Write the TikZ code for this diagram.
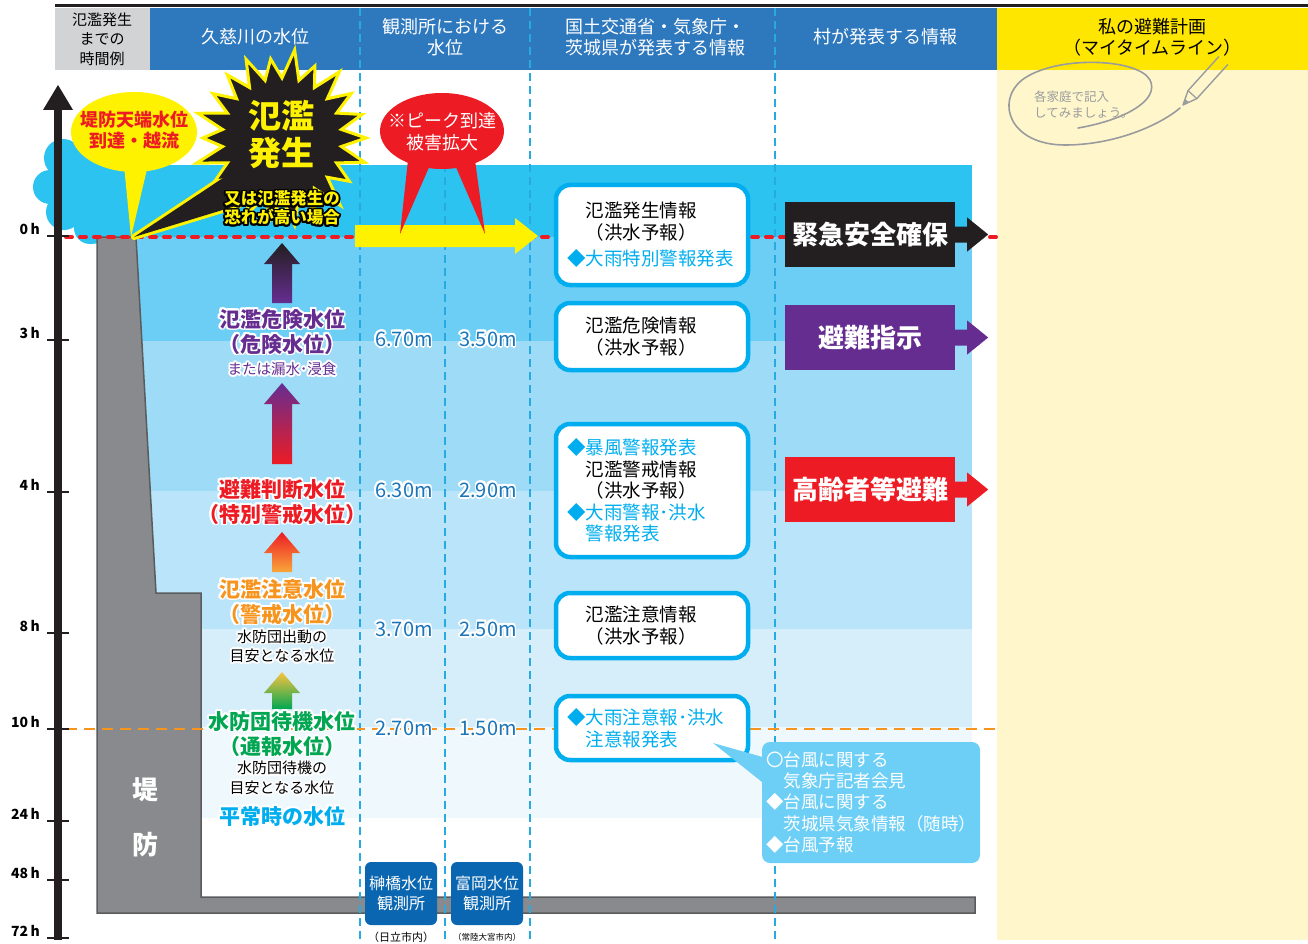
\documentclass[tikz,border=0pt]{standalone}
\usepackage{fontspec}
\setmainfont{Noto Sans CJK JP}
\usepackage[copies]{contour}
\contourlength{1.8pt}
\usetikzlibrary{positioning}

\definecolor{headblue}{HTML}{2E78BE}
\definecolor{headgray}{HTML}{D1D3D4}
\definecolor{headyellow}{HTML}{FFE600}
\definecolor{memoyellow}{HTML}{FFF7CB}
\definecolor{waterA}{HTML}{2CC3F1}
\definecolor{waterB}{HTML}{6CCEF5}
\definecolor{waterC}{HTML}{9DDBF7}
\definecolor{waterD}{HTML}{B9E4F9}
\definecolor{waterE}{HTML}{D6EDFA}
\definecolor{waterF}{HTML}{EEF8FD}
\definecolor{levee}{HTML}{898A8D}
\definecolor{leveeedge}{HTML}{5A5B5D}
\definecolor{dashblue}{HTML}{27AAE1}
\definecolor{boxcyan}{HTML}{00AEEF}
\definecolor{callcyan}{HTML}{6DCFF6}
\definecolor{obsblue}{HTML}{0A66B0}
\definecolor{valblue}{HTML}{1B75BB}
\definecolor{lvlpurple}{HTML}{662D91}
\definecolor{lvlred}{HTML}{ED1C24}
\definecolor{lvlorange}{HTML}{F7941D}
\definecolor{lvlgreen}{HTML}{00A651}
\definecolor{arrorange}{HTML}{F9A63A}
\definecolor{arryellow}{HTML}{FBC33F}
\definecolor{inkblack}{HTML}{231F20}
\definecolor{burstyellow}{HTML}{FFF200}
\definecolor{pencilgray}{HTML}{9A9B9E}

% white / black rims round the lettering
\newcommand\wout[1]{\contour{white}{#1}}
\newcommand\bout[1]{\contour{black}{#1}}

\begin{document}
\begin{tikzpicture}[x=1pt,y=-1pt,
    hd/.style={text=white,font=\fontsize{18}{21}\selectfont,align=center},
    lvl/.style={font=\bfseries\fontsize{21}{25}\selectfont,align=center,inner sep=0pt},
    note/.style={font=\fontsize{15}{19.5}\selectfont,align=center,inner sep=0pt},
    val/.style={text=valblue,font=\fontsize{20}{24}\selectfont,inner sep=0pt},
    info/.style={draw=boxcyan,line width=4.5pt,fill=white,rounded corners=14pt,
                 minimum width=192pt,text width=170pt,inner xsep=11pt,align=left,
                 font=\fontsize{18.5}{21.5}\selectfont},
    act/.style={text=white,font=\bfseries\fontsize{26}{30}\selectfont,
                minimum width=170pt,minimum height=65pt},
    obs/.style={fill=obsblue,rounded corners=6pt,text=white,minimum width=72pt,
                minimum height=63pt,align=center,font=\fontsize{16}{20}\selectfont},
    tick/.style={font=\bfseries\fontsize{14}{16}\selectfont,anchor=east,inner sep=0pt},
    vdash/.style={dashblue,line width=2.5pt,dash pattern=on 8pt off 5pt}]

\useasboundingbox (0,0) rectangle (1308,944);

% header band
\fill[memoyellow] (997,70) rectangle (1308,940);
\fill[headgray] (55,8) rectangle (150,70);
\fill[headblue] (150,8) rectangle (997,70);
\fill[headyellow] (997,8) rectangle (1308,70);
\draw[inkblack,line width=3pt] (55,6) -- (1308,6);

\node[align=center,font=\fontsize{15}{19.5}\selectfont] (hjikan) at (102,39) {氾濫発生\\までの\\時間例};
\node[hd] (hkuji) at (255,37) {久慈川の水位};
\node[hd] (hkansoku) at (445,37) {観測所における\\水位};
\node[hd] (hkuni) at (655,37) {国土交通省・気象庁・\\茨城県が発表する情報};
\node[hd] (hmura) at (885,37) {村が発表する情報};
\node[hd,text=black] (hplan) at (1152,37) {私の避難計画\\（マイタイムライン）};

% river water, deepest at the top
\fill[waterA] (100,165) rectangle (972,237);
\fill[waterB] (100,237) rectangle (972,341);
\fill[waterC] (100,341) rectangle (972,491);
\fill[waterD] (100,491) rectangle (972,629);
\fill[waterE] (100,629) rectangle (972,727);
\fill[waterF] (100,727) rectangle (972,818);

% overflow splash
\fill[waterA] (63,158) circle[radius=19pt] (50,187) circle[radius=17pt]
  (64,212) circle[radius=18pt] (90,228) circle[radius=16pt] (115,236) circle[radius=11pt]
  (90,152) circle[radius=14pt];
\fill[waterA] (63,142) -- (135,165) -- (135,240) -- (90,244) -- (48,200) -- cycle;

% levee
\filldraw[fill=levee,draw=leveeedge,line width=1.5pt]
  (97,237) -- (136,237) -- (156,593) -- (201,593) -- (201,897) -- (975,897)
  -- (975,913) -- (97,913) -- cycle;
\node[text=white,font=\bfseries\fontsize{26}{30}\selectfont] (tei) at (145,790) {堤};
\node[text=white,font=\bfseries\fontsize{26}{30}\selectfont] (bou) at (145,845) {防};

% column guides
\draw[vdash] (360,8) -- (360,940);
\draw[vdash] (445,99) -- (445,940);
\draw[vdash] (530,8) -- (530,940);
\draw[vdash] (775,8) -- (775,940);

% flood line and standby line
\draw[lvlred,line width=4pt,line cap=round,dash pattern=on 6pt off 8pt] (66,237) -- (1000,237);
\draw[lvlorange,line width=2.5pt,dash pattern=on 11pt off 7pt] (66,729) -- (1000,729);

% levee crest bubble
\fill[burstyellow] (124,165) -- (131,237) -- (148,165) -- cycle;
\fill[burstyellow] (134,132) ellipse[x radius=63pt,y radius=40pt];
\node[text=lvlred,align=center,font=\bfseries\fontsize{18}{21}\selectfont] (tenba) at (134,130) {堤防天端水位\\到達・越流};

% flooding starburst
\draw[burstyellow,line width=6pt,line join=round] (220,180) -- (134,237) -- (252,201);
\filldraw[fill=inkblack,draw=burstyellow,line width=3pt,line join=miter]
  (366,138) \foreach \k [evaluate=\k as \r using {ifthenelse(mod(\k,2)==0,84+5*sin(\k*77),60)}]
  in {1,...,43} {-- ([shift={(282,138)}]\k*8.1818:\r)} -- cycle;
\fill[inkblack] (220,180) -- (134,237) -- (252,201) -- (282,138) -- cycle;
\node[text=burstyellow,align=center,font=\bfseries\fontsize{33}{37}\selectfont] (hanran) at (281,135) {氾濫\\発生};
\node[text=burstyellow,align=center,inner sep=0pt,font=\bfseries\fontsize{16.5}{19}\selectfont] (osore) at (282,209) {\bout{又は氾濫発生の}\\\bout{恐れが高い場合}};

% peak arrow and bubble
\fill[burstyellow] (355,225) -- (515,225) -- (515,218) -- (538,236) -- (515,254)
  -- (515,247) -- (355,247) -- cycle;
\fill[lvlred] (408,160) -- (400,234) -- (430,165) -- cycle;
\fill[lvlred] (455,165) -- (485,234) -- (475,160) -- cycle;
\fill[lvlred] (442,131) ellipse[x radius=62pt,y radius=38pt];
\node[text=white,align=center,font=\fontsize{18}{22}\selectfont] (peak) at (442,132) {※ピーク到達\\被害拡大};

% level arrows
\shade[top color=inkblack,bottom color=lvlpurple] (272,303) -- (272,264) -- (264,264)
  -- (282,243) -- (300,264) -- (292,264) -- (292,303) -- cycle;
\shade[top color=lvlpurple,bottom color=lvlred] (272,464) -- (272,404) -- (264,404)
  -- (282,383) -- (300,404) -- (292,404) -- (292,464) -- cycle;
\shade[top color=lvlred,bottom color=arrorange] (272,572) -- (272,553) -- (264,553)
  -- (282,532) -- (300,553) -- (292,553) -- (292,572) -- cycle;
\shade[top color=arryellow,bottom color=lvlgreen] (272,709) -- (272,693) -- (264,693)
  -- (282,672) -- (300,693) -- (292,693) -- (292,709) -- cycle;

% level names
\node[lvl,text=lvlpurple] (kiken) at (282,332.5) {\wout{氾濫危険水位}\\\wout{（危険水位）}};
\node[note,text=lvlpurple,font=\fontsize{14.5}{18}\selectfont] (kikennote) at (282,370) {\wout{または漏水･浸食}};
\node[lvl,text=lvlred] (handan) at (282,502.5) {\wout{避難判断水位}\\\wout{（特別警戒水位）}};
\node[lvl,text=lvlorange] (chui) at (282,602.5) {\wout{氾濫注意水位}\\\wout{（警戒水位）}};
\node[note] (chuinote) [below=3pt of chui] {\wout{水防団出動の}\\\wout{目安となる水位}};
\node[lvl,text=lvlgreen] (taiki) at (282,734.5) {\wout{水防団待機水位}\\\wout{（通報水位）}};
\node[note] (taikinote) [below=3pt of taiki] {\wout{水防団待機の}\\\wout{目安となる水位}};
\node[lvl,text=boxcyan] (heijo) at (282,817) {\wout{平常時の水位}};

% gauge readings
\node[val] (s670) at (404,340) {\wout{6.70m}};
\node[val] (t350) at (488,340) {\wout{3.50m}};
\node[val] (s630) at (404,491) {\wout{6.30m}};
\node[val] (t290) at (488,491) {\wout{2.90m}};
\node[val] (s370) at (404,630) {\wout{3.70m}};
\node[val] (t250) at (488,630) {\wout{2.50m}};
\node[val] (s270) at (404,729) {\wout{2.70m}};
\node[val] (t150) at (488,729) {\wout{1.50m}};

% gauging stations
\node[obs] (sakaki) at (401,893.5) {榊橋水位\\観測所};
\node[obs] (tomioka) at (487,893.5) {富岡水位\\観測所};
\node[font=\fontsize{11}{13}\selectfont,inner sep=0pt] (hitachi) at (401,937) {（日立市内）};
\node[font=\fontsize{8.5}{10}\selectfont,inner sep=0pt] (omiya) at (487,937) {（常陸大宮市内）};

% official information
\node[info,minimum height=100pt] (info1) at (652,235)
  {　氾濫発生情報\\　（洪水予報）\\[5pt]\textcolor{boxcyan}{◆大雨特別警報発表}};
\node[info,minimum height=67pt] (info2) at (652,336.5) {　氾濫危険情報\\　（洪水予報）};
\node[info,minimum height=133pt] (info3) at (652,490.5)
  {\textcolor{boxcyan}{◆暴風警報発表}\\　氾濫警戒情報\\　（洪水予報）\\
   \textcolor{boxcyan}{◆大雨警報･洪水}\\\textcolor{boxcyan}{　警報発表}};
\node[info,minimum height=65pt] (info4) at (652,625.5) {　氾濫注意情報\\　（洪水予報）};
\node[info,minimum height=64pt,text=boxcyan] (info5) at (652,728) {◆大雨注意報･洪水\\　注意報発表};

% typhoon notes
\node[fill=callcyan,rounded corners=8pt,minimum width=218pt,minimum height=121pt,
  text width=210pt,inner xsep=4pt,align=left,text=white,
  font=\fontsize{17.5}{21.2}\selectfont] (typhoon) at (871,802.5)
  {〇台風に関する\\　気象庁記者会見\\◆台風に関する\\　茨城県気象情報（随時）\\◆台風予報};
\coordinate (tailtip) at (713,743);
\fill[callcyan] ([yshift=-15pt]typhoon.north west) -- (tailtip) -- ([yshift=-40pt]typhoon.north west) -- cycle;

% village orders
\node[act,fill=inkblack] (kinkyu) at (870,234.5) {緊急安全確保};
\node[act,fill=lvlpurple] (shiji) at (870,337.5) {避難指示};
\node[act,fill=lvlred] (korei) at (870,489.5) {高齢者等避難};
\foreach \n/\c in {kinkyu/inkblack,shiji/lvlpurple,korei/lvlred}
  \fill[\c] (\n.east) ++(0,-8) -- ++(12,0) -- ++(0,-9) -- ++(21,17) -- ++(-21,17)
    -- ++(0,-9) -- ++(-12,0) -- cycle;

% time axis
\fill[inkblack] (54,940) rectangle (62,106);
\fill[inkblack] (43,110) -- (58,85) -- (73,110) -- cycle;
\foreach \t/\lab in {236/0,340/3,492/4,633/8,729/10,821/24,880/48,938/72}{
  \draw[inkblack,line width=2.5pt] (47,\t) -- (69,\t);
  \node[tick] (t\lab) at (40,\t-7) {\lab\,h};
}

% memo scribble and pencil
\draw[pencilgray,line width=1.6pt,line cap=round]
  (1078,128) .. controls (1125,120) and (1160,100) .. (1150,80)
  .. controls (1138,58) and (1055,55) .. (1022,80)
  .. controls (995,102) and (1010,145) .. (1065,145)
  .. controls (1115,145) and (1160,125) .. (1180,108);
\node[text=pencilgray,anchor=west,align=left,inner sep=0pt,
  font=\fontsize{12.5}{16}\selectfont] (memo) at (1034,105) {各家庭で記入\\してみましょう。};
\draw[pencilgray,line width=1.4pt,line join=round]
  (1218.9,56.5) -- (1188,90.6) -- (1183,105) -- (1196.8,98.6) -- (1227.8,64.5);
\draw[pencilgray,line width=1.2pt] (1188,90.6) -- (1196.8,98.6);
\fill[pencilgray] (1183,105) -- (1184.5,99) -- (1188.5,101.5) -- cycle;
\end{tikzpicture}
\end{document}
